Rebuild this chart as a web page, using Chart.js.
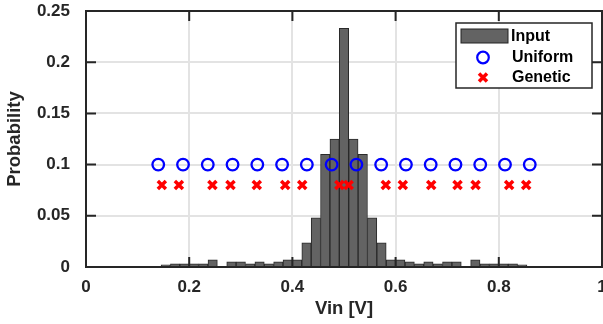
<!DOCTYPE html>
<html>
<head>
<meta charset="utf-8">
<script src="https://cdn.jsdelivr.net/npm/chart.js@4.4.1/dist/chart.umd.min.js"></script>
<style>
html, body { margin: 0; padding: 0; background: #fff; }
</style>
</head>
<body>
<canvas id="myChart" width="603" height="324"></canvas>
<script>
// histogram bin centres (Vin) and probabilities
const binCenters = [0.1545, 0.1727, 0.1909, 0.2091, 0.2273, 0.2455, 0.2636, 0.2818, 0.3, 0.3182,
	0.3364, 0.3545, 0.3727, 0.3909, 0.4091, 0.4273, 0.4455, 0.4636, 0.4818, 0.5,
	0.5182, 0.5364, 0.5545, 0.5727, 0.5909, 0.6091, 0.6273, 0.6455, 0.6636, 0.6818,
	0.7, 0.7182, 0.7364, 0.7545, 0.7727, 0.7909, 0.8091, 0.8273, 0.8455];
const inputProb = [0.002, 0.003, 0.003, 0.003, 0.003, 0.007, 0, 0.005, 0.005, 0.003,
	0.005, 0.003, 0.005, 0.007, 0.007, 0.0235, 0.048, 0.110, 0.125, 0.233,
	0.125, 0.110, 0.048, 0.0235, 0.007, 0.007, 0.005, 0.003, 0.005, 0.003,
	0.005, 0.005, 0, 0.007, 0.003, 0.003, 0.003, 0.003, 0.002];

const uniformX = [0.14, 0.188, 0.236, 0.284, 0.332, 0.38, 0.428, 0.476,
	0.524, 0.572, 0.62, 0.668, 0.716, 0.764, 0.812, 0.86];
const uniformY = [0.1, 0.1, 0.1, 0.1, 0.1, 0.1, 0.1, 0.1, 0.1, 0.1, 0.1, 0.1, 0.1, 0.1, 0.1, 0.1];

const geneticX = [0.147, 0.180, 0.245, 0.280, 0.331, 0.386, 0.419, 0.491,
	0.509, 0.581, 0.614, 0.669, 0.720, 0.755, 0.820, 0.853];
const geneticY = [0.08, 0.08, 0.08, 0.08, 0.08, 0.08, 0.08, 0.08, 0.08, 0.08, 0.08, 0.08, 0.08, 0.08, 0.08, 0.08];

const xTicks = [0, 0.2, 0.4, 0.6, 0.8, 1];
const xTickLabels = ['0', '0.2', '0.4', '0.6', '0.8', '1'];
const yTicks = [0, 0.05, 0.1, 0.15, 0.2, 0.25];
const yTickLabels = ['0', '0.05', '0.1', '0.15', '0.2', '0.25'];

const FONT = '"Liberation Sans", Arial, Helvetica, sans-serif';
const AXIS_COL = '#262626';
const BAR_FILL = '#636363';

const frame = {
	id: 'frame',
	afterDatasetsDraw(chart) {
		const {ctx, chartArea: a, scales: {x, y}} = chart;
		ctx.save();
		ctx.strokeStyle = AXIS_COL;
		ctx.lineWidth = 2;
		ctx.beginPath();
		xTicks.forEach(v => {
			const px = x.getPixelForValue(v);
			ctx.moveTo(px, a.bottom); ctx.lineTo(px, a.bottom - 10);
			ctx.moveTo(px, a.top); ctx.lineTo(px, a.top + 10);
		});
		yTicks.forEach(v => {
			const py = y.getPixelForValue(v);
			ctx.moveTo(a.left, py); ctx.lineTo(a.left + 10, py);
			ctx.moveTo(a.right, py); ctx.lineTo(a.right - 10, py);
		});
		ctx.stroke();
		ctx.strokeRect(a.left, a.top, a.right - a.left, a.bottom - a.top);
		ctx.restore();
	}
};

const boxLegend = {
	id: 'boxLegend',
	afterDraw(chart) {
		const {ctx, chartArea: a} = chart;
		const w = 136, h = 65;
		const L = a.right - 10 - w, T = a.top + 12;
		ctx.save();
		ctx.fillStyle = '#fff';
		ctx.fillRect(L, T, w, h);
		ctx.strokeStyle = AXIS_COL;
		ctx.lineWidth = 1.5;
		ctx.strokeRect(L, T, w, h);

		// Input swatch
		ctx.fillStyle = BAR_FILL;
		ctx.fillRect(L + 5, T + 6, 47, 14);
		ctx.strokeStyle = '#222';
		ctx.lineWidth = 1;
		ctx.strokeRect(L + 5, T + 6, 47, 14);

		// Uniform marker
		const mx = L + 27;
		ctx.strokeStyle = '#0000ff';
		ctx.lineWidth = 2.2;
		ctx.beginPath();
		ctx.arc(mx, T + 34.5, 5.8, 0, Math.PI * 2);
		ctx.stroke();

		// Genetic marker
		ctx.strokeStyle = '#ff0000';
		ctx.lineWidth = 3.5;
		const d = 4, gy = T + 54.5;
		ctx.beginPath();
		ctx.moveTo(mx - d, gy - d); ctx.lineTo(mx + d, gy + d);
		ctx.moveTo(mx + d, gy - d); ctx.lineTo(mx - d, gy + d);
		ctx.stroke();

		ctx.fillStyle = '#000';
		ctx.font = 'bold 16px ' + FONT;
		ctx.textBaseline = 'middle';
		ctx.textAlign = 'left';
		ctx.fillText('Input', L + 55, T + 14);
		ctx.fillText('Uniform', L + 56, T + 34.5);
		ctx.fillText('Genetic', L + 56, T + 54.5);
		ctx.restore();
	}
};

const ctx = document.getElementById('myChart').getContext('2d');
new Chart(ctx, {
	type: 'bar',
	data: {
		datasets: [{
			type: 'bar',
			label: 'Input',
			data: binCenters.map((v, i) => ({x: v, y: inputProb[i]})),
			backgroundColor: BAR_FILL,
			borderColor: '#2a2a2a',
			borderWidth: 1,
			barPercentage: 1,
			categoryPercentage: 1,
			order: 3
		}, {
			type: 'scatter',
			label: 'Uniform',
			data: uniformX.map((v, i) => ({x: v, y: uniformY[i]})),
			pointStyle: 'circle',
			pointRadius: 5.8,
			pointBorderWidth: 2.3,
			borderColor: '#0000ff',
			backgroundColor: 'rgba(0,0,0,0)',
			pointBackgroundColor: 'rgba(0,0,0,0)',
			showLine: false,
			order: 2
		}, {
			type: 'scatter',
			label: 'Genetic',
			data: geneticX.map((v, i) => ({x: v, y: geneticY[i]})),
			pointStyle: 'crossRot',
			pointRadius: 5.7,
			pointBorderWidth: 3.5,
			borderColor: '#ff0000',
			backgroundColor: '#ff0000',
			showLine: false,
			order: 1
		}]
	},
	options: {
		responsive: false,
		animation: false,
		events: [],
		layout: { autoPadding: false, padding: { top: 11, right: 1, left: 0, bottom: 0 } },
		plugins: {
			legend: { display: false },
			tooltip: { enabled: false }
		},
		scales: {
			x: {
				type: 'linear',
				min: 0,
				max: 1,
				offset: false,
				afterBuildTicks: s => { s.ticks = xTicks.map(v => ({value: v})); },
				afterFit: s => { s.height = 57; s.paddingLeft = 0; s.paddingRight = 0; },
				grid: { offset: false, color: '#e3e3e3', lineWidth: 2, drawTicks: false },
				border: { display: false },
				ticks: {
					padding: 10,
					color: AXIS_COL,
					font: { family: FONT, size: 17, weight: 'bold' },
					maxRotation: 0,
					callback: (v, i) => xTickLabels[i]
				},
				title: {
					display: true,
					text: 'Vin [V]',
					color: AXIS_COL,
					font: { family: FONT, size: 18.5, weight: 'bold' },
					padding: { top: 5 }
				}
			},
			y: {
				type: 'linear',
				min: 0,
				max: 0.25,
				afterBuildTicks: s => { s.ticks = yTicks.map(v => ({value: v})); },
				afterFit: s => { s.width = 86; s.paddingTop = 0; s.paddingBottom = 0; },
				grid: { color: '#e3e3e3', lineWidth: 2, drawTicks: false },
				border: { display: false },
				ticks: {
					padding: 16,
					color: AXIS_COL,
					font: { family: FONT, size: 17, weight: 'bold' },
					callback: (v, i) => yTickLabels[i]
				},
				title: {
					display: true,
					text: 'Probability',
					color: AXIS_COL,
					font: { family: FONT, size: 18.5, weight: 'bold' },
					padding: { top: 4 }
				}
			}
		}
	},
	plugins: [frame, boxLegend]
});
</script>
</body>
</html>
